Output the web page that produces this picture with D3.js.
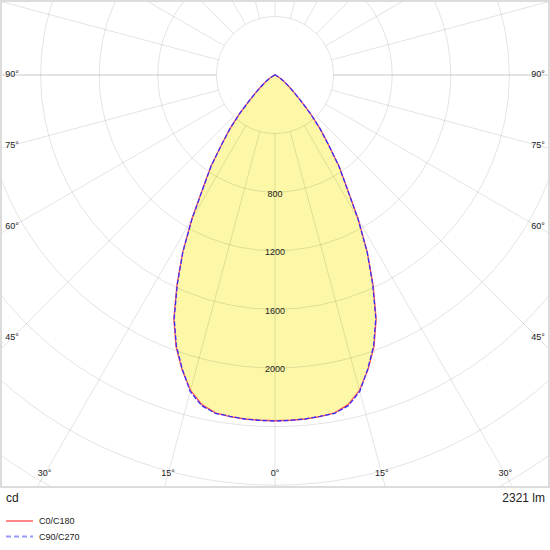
<!DOCTYPE html>
<html>
<head>
<meta charset="utf-8">
<script src="https://cdn.jsdelivr.net/npm/d3@7"></script>
<style>
  body { margin: 0; background: #fff; }
  svg text { font-family: "Liberation Sans", Arial, sans-serif; fill: #222; }
</style>
</head>
<body>
<svg id="chart" width="550" height="550"></svg>
<script>
// gamma angles (deg, 0 = straight down) and luminous intensity (cd)
const gamma = [0, 2.5, 5, 7.5, 10, 12.5, 15, 17.5, 20, 22.5, 25, 27.5, 30, 32.5, 35, 37.5,
  40, 42.5, 45, 47.5, 50, 52.5, 55, 57.5, 60, 65, 70, 75, 80, 90, 180];
const c0c180 = [2360, 2359, 2357, 2352, 2342, 2305, 2228, 2110, 1975, 1805, 1585, 1365, 1135, 915, 765, 600,
  480, 360, 250, 180, 130, 95, 70, 48, 30, 12, 4, 0, 0, 0, 0];
const c90c270 = [2362, 2360, 2357, 2350, 2345, 2312, 2236, 2105, 1968, 1798, 1578, 1362, 1132, 912, 762, 598,
  478, 358, 248, 178, 128, 94, 69, 47, 30, 12, 4, 0, 0, 0, 0];

const ringValues = d3.range(400, 4001, 400);
const ringLabels = [800, 1200, 1600, 2000];
const angleLabels = [0, 15, 30, 45, 60, 75, 90];
const seriesNames = ["C0/C180", "C90/C270"];
const lumenText = "2321 lm";
const unitText = "cd";

const width = 550;
const frame = { left: 1, top: 1, right: 549, bottom: 487 };
const cx = 275, cy = 75;

const rScale = d3.scaleLinear().domain([0, 400]).range([0, 58.6]);

const svg = d3.select("#chart");

svg.append("defs").append("clipPath").attr("id", "clip")
  .append("rect")
    .attr("x", frame.left + 1).attr("y", frame.top + 1)
    .attr("width", frame.right - frame.left - 2)
    .attr("height", frame.bottom - frame.top - 2);

const plot = svg.append("g").attr("clip-path", "url(#clip)");
const g = plot.append("g").attr("transform", `translate(${cx},${cy})`);

// closed outline: left half (C180 / C270) from 180 down to 0, then right half (C0 / C90) 0 up to 180
function outline(values) {
  const pts = [];
  for (let i = gamma.length - 1; i >= 0; --i) pts.push([Math.PI + gamma[i] * Math.PI / 180, values[i]]);
  for (let i = 1; i < gamma.length; ++i) pts.push([Math.PI - gamma[i] * Math.PI / 180, values[i]]);
  return pts;
}

const radial = d3.lineRadial()
  .angle(d => d[0])
  .radius(d => rScale(d[1]));

// fill
g.append("path")
  .attr("d", radial(outline(c0c180)) + "Z")
  .attr("fill", "#fcf8a8")
  .attr("stroke", "none");

// grid rings
g.selectAll(".ring")
  .data(ringValues)
  .join("circle")
    .attr("r", d => rScale(d))
    .attr("fill", "none")
    .attr("stroke", "#000")
    .attr("stroke-opacity", 0.11)
    .attr("stroke-width", 1);

// grid spokes every 15 degrees, starting at the first ring
const spokes = d3.range(0, 360, 15);
g.selectAll(".spoke")
  .data(spokes)
  .join("line")
    .attr("x1", d => rScale(400) * Math.sin(d * Math.PI / 180))
    .attr("y1", d => rScale(400) * Math.cos(d * Math.PI / 180))
    .attr("x2", d => rScale(4000) * Math.sin(d * Math.PI / 180))
    .attr("y2", d => rScale(4000) * Math.cos(d * Math.PI / 180))
    .attr("stroke", "#000")
    .attr("stroke-opacity", d => (d % 90 === 0 && d !== 0 && d !== 180) ? 0.14 : 0.11)
    .attr("stroke-width", d => (d % 90 === 0 && d !== 0 && d !== 180) ? 1.6 : 1);

// curves
g.append("path")
  .attr("d", radial(outline(c0c180)) + "Z")
  .attr("fill", "none")
  .attr("stroke", "#ff5555")
  .attr("stroke-width", 1.3);

g.append("path")
  .attr("d", radial(outline(c90c270)) + "Z")
  .attr("fill", "none")
  .attr("stroke", "#3a2cff")
  .attr("stroke-width", 1.3)
  .attr("stroke-dasharray", "5,2");

// ring labels along 0 degrees
g.selectAll(".ringLabel")
  .data(ringLabels)
  .join("text")
    .attr("x", 0)
    .attr("y", d => rScale(d) + 2)
    .attr("text-anchor", "middle")
    .attr("dominant-baseline", "middle")
    .attr("font-size", 9)
    .text(d => d);

// angle labels where spokes meet an inset box
const inset = { left: 12, right: 538, bottom: 474 };
function labelPos(a, side) {
  const s = Math.sin(a * Math.PI / 180), c = Math.cos(a * Math.PI / 180);
  const tx = s > 1e-6 ? (side < 0 ? cx - inset.left : inset.right - cx) / s : Infinity;
  const ty = c > 1e-6 ? (inset.bottom - cy) / c : Infinity;
  const t = Math.min(tx, ty);
  return [cx + side * t * s, cy + t * c];
}
const labelData = [];
angleLabels.forEach(a => {
  labelData.push({ a, p: labelPos(a, -1) });
  if (a !== 0) labelData.push({ a, p: labelPos(a, 1) });
});
svg.selectAll(".angleLabel")
  .data(labelData)
  .join("text")
    .attr("x", d => d.p[0])
    .attr("y", d => d.p[1])
    .attr("text-anchor", "middle")
    .attr("dominant-baseline", "middle")
    .attr("font-size", 9)
    .text(d => d.a + "°");

// frame
svg.append("rect")
  .attr("x", frame.left).attr("y", frame.top)
  .attr("width", frame.right - frame.left)
  .attr("height", frame.bottom - frame.top)
  .attr("fill", "none")
  .attr("stroke", "#dcdcdc")
  .attr("stroke-width", 2);

// footer texts
svg.append("text")
  .attr("x", 6).attr("y", 501.5)
  .attr("font-size", 12)
  .text(unitText);
svg.append("text")
  .attr("x", 545).attr("y", 502)
  .attr("text-anchor", "end")
  .attr("font-size", 12)
  .text(lumenText);

// legend
const legend = svg.append("g");
const legendStyles = [
  { color: "#f88", dash: null },
  { color: "#99f", dash: "5,3" }
];
seriesNames.forEach((name, i) => {
  const y = 521 + i * 15.5;
  legend.append("line")
    .attr("x1", 6).attr("x2", 33)
    .attr("y1", y).attr("y2", y)
    .attr("stroke", legendStyles[i].color)
    .attr("stroke-width", 2)
    .attr("stroke-dasharray", legendStyles[i].dash);
  legend.append("text")
    .attr("x", 39).attr("y", y + 1)
    .attr("dominant-baseline", "middle")
    .attr("font-size", 9)
    .text(name);
});
</script>
</body>
</html>
